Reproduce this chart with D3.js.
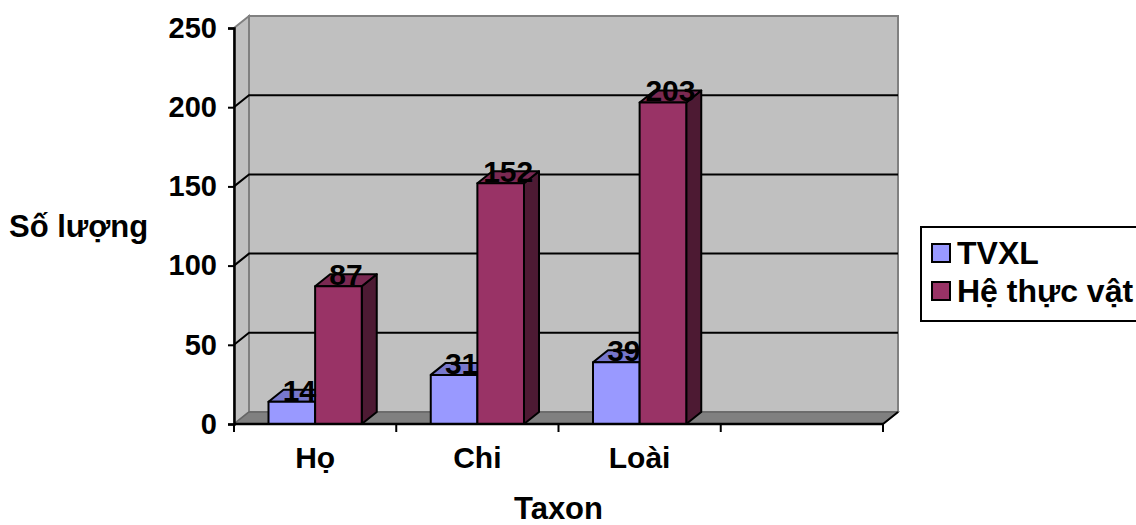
<!DOCTYPE html>
<html>
<head>
<meta charset="utf-8">
<script src="https://cdn.jsdelivr.net/npm/d3@7"></script>
<style>
  body { margin: 0; background: #fff; }
  text { font-family: "Liberation Sans", Arial, sans-serif; font-weight: bold; fill: #000; }
</style>
</head>
<body>
<div id="chart"></div>
<script>
//data
var categories = ["Họ", "Chi", "Loài", ""];
var seriesNames = ["TVXL", "Hệ thực vật"];
var tvxl = [14, 31, 39];
var heThucVat = [87, 152, 203];
var yTicks = [0, 50, 100, 150, 200, 250];

//setup spacing size
var svg_w = 1136;
var svg_h = 525;
var plot = {left: 234, right: 883, top: 28, bottom: 424};
var depth = {dx: 15, dy: -12};

var colors = {
	front: ["#9999ff", "#993366"],
	top: ["#7777cc", "#7a2952"],
	side: ["#4c4c80", "#4d1a33"]
};

var svg = d3.select("#chart")
	.append("svg")
	.attr("width", svg_w)
	.attr("height", svg_h);

//scales
var yScale = d3.scaleLinear()
	.domain([0, 250])
	.range([plot.bottom, plot.top]);

var xScale = d3.scaleBand()
	.domain(categories)
	.range([plot.left, plot.right]);

var xInner = d3.scaleBand()
	.domain(seriesNames)
	.range([0, xScale.bandwidth()])
	.paddingOuter(0.74);

function pts(arr) {
	return arr.map(function(p) { return p[0] + "," + p[1]; }).join(" ");
}

//walls and floor
var bx = plot.left + depth.dx;
var brx = plot.right + depth.dx;

svg.append("rect")
	.attr("x", bx)
	.attr("y", plot.top + depth.dy)
	.attr("width", brx - bx)
	.attr("height", plot.bottom - plot.top)
	.attr("fill", "#c0c0c0")
	.attr("stroke", "#808080")
	.attr("stroke-width", 2);

svg.append("polygon")
	.attr("points", pts([[plot.left, plot.top], [bx, plot.top + depth.dy], [bx, plot.bottom + depth.dy], [plot.left, plot.bottom]]))
	.attr("fill", "#c0c0c0")
	.attr("stroke", "#808080")
	.attr("stroke-width", 2);

svg.append("polygon")
	.attr("points", pts([[plot.left, plot.bottom], [bx, plot.bottom + depth.dy], [brx, plot.bottom + depth.dy], [plot.right, plot.bottom]]))
	.attr("fill", "#808080")
	.attr("stroke", "#666")
	.attr("stroke-width", 1.5);

//gridlines on back wall and side wall
var grid = svg.append("g");
yTicks.filter(function(t) { return t > 0 && t < 250; }).forEach(function(t) {
	var y = yScale(t);
	grid.append("polyline")
		.attr("points", pts([[plot.left, y], [bx, y + depth.dy], [brx, y + depth.dy]]))
		.attr("fill", "none")
		.attr("stroke", "#000")
		.attr("stroke-width", 2);
});

//bars
var values = [tvxl, heThucVat];
var bars = svg.append("g");
categories.forEach(function(c, i) {
	seriesNames.forEach(function(s, j) {
		var v = values[j][i];
		if (v === undefined) return;
		var x0 = xScale(c) + xInner(s);
		var x1 = x0 + xInner.bandwidth();
		var y0 = yScale(0);
		var y1 = yScale(v);
		var g = bars.append("g")
			.attr("stroke", "#000")
			.attr("stroke-width", 2)
			.attr("stroke-linejoin", "round");
		g.append("polygon")
			.attr("points", pts([[x1, y1], [x1 + depth.dx, y1 + depth.dy], [x1 + depth.dx, y0 + depth.dy], [x1, y0]]))
			.attr("fill", colors.side[j]);
		g.append("polygon")
			.attr("points", pts([[x0, y1], [x0 + depth.dx, y1 + depth.dy], [x1 + depth.dx, y1 + depth.dy], [x1, y1]]))
			.attr("fill", colors.top[j]);
		g.append("rect")
			.attr("x", x0)
			.attr("y", y1)
			.attr("width", x1 - x0)
			.attr("height", y0 - y1)
			.attr("fill", colors.front[j]);
	});
});

//data labels
categories.forEach(function(c, i) {
	seriesNames.forEach(function(s, j) {
		var v = values[j][i];
		if (v === undefined) return;
		svg.append("text")
			.attr("x", xScale(c) + xInner(s) + xInner.bandwidth() / 2 + depth.dx / 2)
			.attr("y", yScale(v) - 1)
			.attr("text-anchor", "middle")
			.attr("font-size", 30)
			.text(v);
	});
});

//y axis
var yAxis = svg.append("g")
	.attr("transform", "translate(" + plot.left + ",0)")
	.call(d3.axisLeft(yScale).tickValues(yTicks).tickSize(6).tickPadding(11));
yAxis.select(".domain").attr("stroke-width", 2.5);
yAxis.selectAll(".tick line").attr("stroke-width", 2);
yAxis.selectAll("text")
	.attr("font-size", 29)
	.attr("font-family", "Liberation Sans, Arial, sans-serif")
	.attr("font-weight", "bold");

//x axis
var xAxis = svg.append("g")
	.attr("transform", "translate(0," + plot.bottom + ")");
xAxis.append("line")
	.attr("x1", plot.left)
	.attr("x2", plot.right)
	.attr("stroke", "#000")
	.attr("stroke-width", 2.5);
xAxis.append("line")
	.attr("x1", plot.right)
	.attr("y1", 0)
	.attr("x2", brx)
	.attr("y2", depth.dy)
	.attr("stroke", "#000")
	.attr("stroke-width", 2);
xAxis.selectAll(".xtick")
	.data(categories.map(function(c) { return xScale(c); }).concat([plot.right]))
	.enter()
	.append("line")
	.attr("x1", function(d) { return d; })
	.attr("x2", function(d) { return d; })
	.attr("y1", 0)
	.attr("y2", 8)
	.attr("stroke", "#000")
	.attr("stroke-width", 2);
xAxis.selectAll(".xlabel")
	.data(categories)
	.enter()
	.append("text")
	.attr("x", function(d) { return xScale(d) + xScale.bandwidth() / 2; })
	.attr("y", 44)
	.attr("text-anchor", "middle")
	.attr("font-size", 30)
	.text(function(d) { return d; });

//axis titles
svg.append("text")
	.attr("x", 9)
	.attr("y", 237)
	.attr("font-size", 31)
	.text("Số lượng");

svg.append("text")
	.attr("x", (plot.left + plot.right) / 2)
	.attr("y", 519)
	.attr("text-anchor", "middle")
	.attr("font-size", 31)
	.text("Taxon");

//legend
var legend = svg.append("g");
legend.append("rect")
	.attr("x", 921)
	.attr("y", 227)
	.attr("width", 240)
	.attr("height", 94)
	.attr("fill", "#fff")
	.attr("stroke", "#000")
	.attr("stroke-width", 2);

var items = legend.selectAll(".legend")
	.data(seriesNames)
	.enter()
	.append("g")
	.attr("class", "legend")
	.attr("transform", function(d, i) { return "translate(932," + (253 + i * 38) + ")"; });

items.append("rect")
	.attr("x", 0)
	.attr("y", -9)
	.attr("width", 18)
	.attr("height", 18)
	.attr("fill", function(d, i) { return colors.front[i]; })
	.attr("stroke", "#000")
	.attr("stroke-width", 2);

items.append("text")
	.attr("x", 25)
	.attr("y", 11)
	.attr("font-size", 32)
	.text(function(d) { return d; });
</script>
</body>
</html>
